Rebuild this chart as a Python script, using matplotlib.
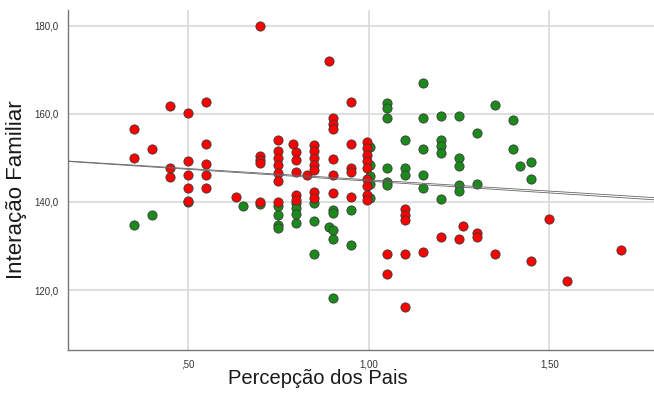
import matplotlib.pyplot as plt
from matplotlib.ticker import FuncFormatter

# Percepção dos Pais (x) vs Interação Familiar (y), two groups
red_x = [0.35, 0.35, 0.40, 0.45, 0.45, 0.45,
         0.50, 0.50, 0.50, 0.50, 0.50,
         0.55, 0.55, 0.55, 0.55, 0.55, 0.632,
         0.70, 0.70, 0.70, 0.70, 0.70,
         0.75, 0.75, 0.75, 0.75, 0.75, 0.75, 0.75,
         0.79, 0.80, 0.80, 0.80, 0.80, 0.80, 0.83,
         0.85, 0.85, 0.85, 0.85, 0.85, 0.85, 0.85,
         0.89, 0.90, 0.90, 0.90, 0.90, 0.90, 0.90,
         0.95, 0.95, 0.95, 0.95, 0.95,
         0.995, 0.995, 0.995, 0.995, 0.995, 0.995, 0.995, 0.995, 0.995,
         1.05, 1.05, 1.10, 1.10, 1.10, 1.10, 1.10,
         1.15, 1.20, 1.25, 1.26, 1.30, 1.30, 1.35, 1.45, 1.50, 1.55, 1.70]
red_y = [156.6, 150.1, 152.1, 161.7, 147.7, 145.6,
         160.1, 149.2, 146.1, 143.1, 140.2,
         162.6, 153.1, 148.6, 146.1, 143.1, 141.1,
         180.0, 150.4, 149.6, 148.8, 139.9,
         154.1, 151.6, 150.0, 148.3, 146.5, 144.8, 140.1,
         153.2, 151.3, 149.5, 146.7, 141.6, 140.5, 146.1,
         153.0, 151.5, 150.0, 148.5, 147.3, 142.3, 140.8,
         172.0, 159.0, 157.8, 156.6, 149.7, 146.1, 142.1,
         162.6, 153.1, 147.7, 146.7, 141.2,
         153.7, 152.2, 150.7, 149.2, 147.7, 145.2, 143.6, 141.6, 140.5,
         128.2, 123.6, 138.3, 137.0, 135.8, 128.2, 116.2,
         128.6, 132.1, 131.7, 134.6, 133.0, 132.1, 128.2, 126.7, 136.1, 122.1, 129.1]

green_x = [0.35, 0.40, 0.50, 0.652, 0.70,
           0.75, 0.75, 0.75, 0.75,
           0.80, 0.80, 0.80, 0.80,
           0.85, 0.85, 0.85,
           0.90, 0.90, 0.889, 0.90, 0.90, 0.90,
           0.95, 0.95,
           1.005, 1.005, 1.005, 1.005, 1.005,
           1.05, 1.05, 1.05, 1.05, 1.05, 1.05,
           1.10, 1.10, 1.10,
           1.15, 1.15, 1.15, 1.15, 1.15,
           1.20, 1.20, 1.20, 1.20, 1.20,
           1.25, 1.25, 1.25, 1.25, 1.25,
           1.30, 1.30, 1.35, 1.40, 1.40, 1.42, 1.45, 1.45]
green_y = [134.7, 137.1, 140.0, 139.1, 139.6,
           139.0, 137.0, 134.8, 134.1,
           139.8, 138.6, 137.2, 135.2,
           139.7, 135.7, 128.2,
           138.2, 137.4, 134.3, 133.6, 131.7, 118.2,
           138.2, 130.2,
           152.5, 148.5, 145.8, 144.0, 141.0,
           162.4, 161.3, 159.1, 147.7, 144.6, 143.9,
           154.1, 147.7, 146.1,
           167.1, 159.1, 152.1, 146.1, 143.1,
           159.5, 154.1, 152.6, 151.1, 140.6,
           159.5, 150.1, 148.1, 143.9, 142.6,
           155.6, 144.1, 162.0, 158.6, 152.1, 148.1, 149.1, 145.2]

# total fit lines (intercept, slope)
fit_lines = [(150.16, -5.12), (150.10, -5.36)]

x_min, x_max = 0.1676, 1.79
y_min, y_max = 106.4, 183.6
x_ticks = [0.5, 1.0, 1.5]
y_ticks = [120, 140, 160, 180]

plt.rcParams['font.family'] = ['Liberation Sans', 'DejaVu Sans']

fig = plt.figure(figsize=(6.54, 3.98), dpi=100)
ax = fig.add_axes([0.104, 0.1206, 0.896, 0.8544])

ax.scatter(green_x, green_y, s=44, c='#1a8a1a', edgecolors='#3a3a3a', linewidths=0.6, zorder=3)
ax.scatter(red_x, red_y, s=44, c='#ff0000', edgecolors='#3a3a3a', linewidths=0.6, zorder=4)

for b0, b1 in fit_lines:
    ax.plot([x_min, x_max], [b0 + b1 * x_min, b0 + b1 * x_max], color='#666666', lw=0.6, zorder=5)

ax.set_xlim(x_min, x_max)
ax.set_ylim(y_min, y_max)
ax.set_xticks(x_ticks)
ax.set_yticks(y_ticks)
ax.xaxis.set_major_formatter(FuncFormatter(lambda v, p: f"{v:.2f}".replace('.', ',').lstrip('0')))
ax.yaxis.set_major_formatter(FuncFormatter(lambda v, p: f"{v:.1f}".replace('.', ',')))
ax.tick_params(length=0, labelsize=7, labelcolor='#333333', pad=7)

ax.grid(True, color='#d6d6d6', lw=1.1, zorder=0)
ax.set_axisbelow(True)
for side in ['top', 'right']:
    ax.spines[side].set_visible(False)
for side in ['left', 'bottom']:
    ax.spines[side].set_color('#777777')
    ax.spines[side].set_linewidth(1.0)

ax.set_xlabel('Percepção dos Pais', fontsize=14.5, color='#1a1a1a')
ax.set_ylabel('Interação Familiar', fontsize=16, color='#1a1a1a')
ax.xaxis.set_label_coords(0.427, -0.055)
ax.yaxis.set_label_coords(-0.07, 0.47)

fig.savefig('out.png', dpi=100)
